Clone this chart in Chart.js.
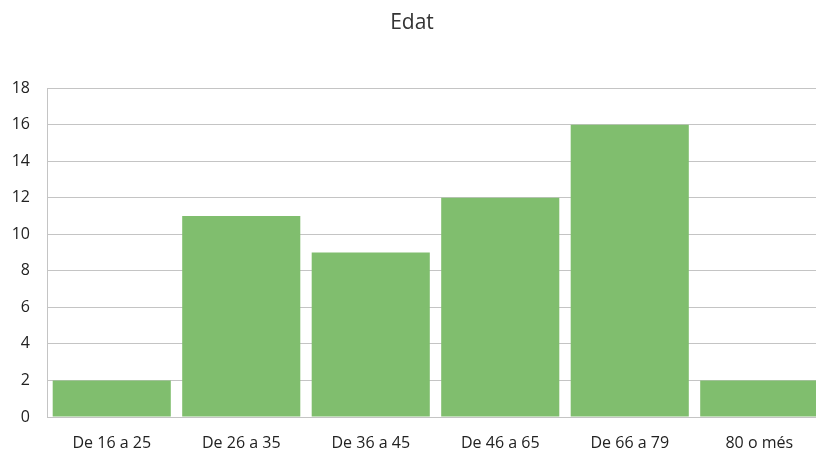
<!DOCTYPE html>
<html>
<head>
<meta charset="utf-8">
<script src="https://cdn.jsdelivr.net/npm/chart.js@4/dist/chart.umd.min.js"></script>
<style>
  html, body { margin: 0; padding: 0; background: #fff; }
  #wrap { width: 816px; height: 450px; overflow: hidden; }
</style>
</head>
<body>
<div id="wrap"><canvas id="edatChart" width="826" height="450"></canvas></div>
<script>
// dades del grafic
var categories = ["De 16 a 25", "De 26 a 35", "De 36 a 45", "De 46 a 65", "De 66 a 79", "80 o més"];
var values = [2, 11, 9, 12, 16, 2];
var yTicks = [0, 2, 4, 6, 8, 10, 12, 14, 16, 18];

var ctx = document.getElementById("edatChart").getContext('2d');
var myChart = new Chart(ctx, {
    type: 'bar',
    data: {
        labels: categories,
        datasets: [{
            label: "Edat",
            data: values,
            backgroundColor: "#80BE6E",
            borderWidth: 0,
            barPercentage: 0.912,
            categoryPercentage: 1
        }]
    },
    options: {
        responsive: false,
        animation: false,
        layout: {
            padding: { left: 0, right: 2, top: 0, bottom: 0 }
        },
        plugins: {
            legend: { display: false },
            tooltip: { enabled: false },
            title: {
                display: true,
                text: "Edat",
                color: "#333333",
                font: { family: "Open Sans", size: 21, weight: 'normal' },
                padding: { top: 10, bottom: 53 }
            }
        },
        scales: {
            x: {
                grid: { display: false, drawTicks: false },
                border: { display: true, color: "#C4C4C4", width: 1 },
                ticks: {
                    color: "#222222",
                    font: { family: "Open Sans", size: 16, lineHeight: 1 },
                    padding: 18,
                    maxRotation: 0,
                    autoSkip: false
                },
                afterFit: function(axis) { axis.height = 33; }
            },
            y: {
                min: 0,
                max: 18,
                afterBuildTicks: function(axis) {
                    axis.ticks = yTicks.map(function(v) { return { value: v }; });
                },
                grid: { color: "#C4C4C4", drawTicks: false },
                border: { display: true, color: "#C4C4C4", width: 1 },
                ticks: {
                    color: "#222222",
                    font: { family: "Open Sans", size: 16 },
                    padding: 17
                },
                afterFit: function(axis) { axis.width = 47; }
            }
        }
    }
});
</script>
</body>
</html>
